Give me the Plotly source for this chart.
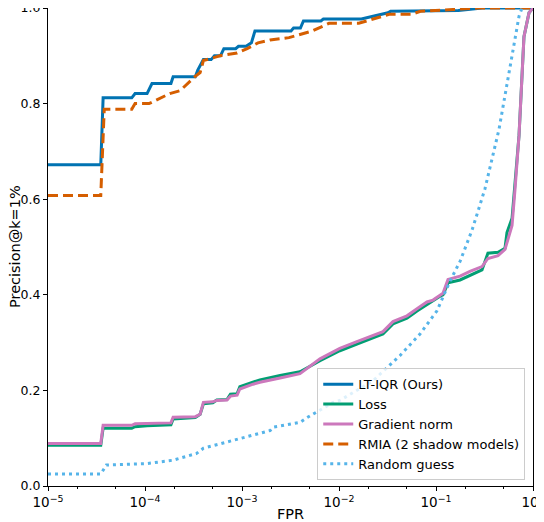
import plotly.graph_objects as go

# FPR / precision pairs
fpr_ltiqr = [1e-5, 3.5e-5, 3.7e-5, 7.3e-5, 7.9e-5, 1.05e-4, 1.18e-4, 1.85e-4, 1.95e-4, 3.3e-4, 3.5e-4,
             4.0e-4, 4.8e-4, 5.2e-4, 6.0e-4, 6.5e-4, 8.6e-4, 9.2e-4, 1.1e-3, 1.25e-3, 1.36e-3, 3.2e-3,
             3.4e-3, 4.0e-3, 4.3e-3, 6.5e-3, 6.9e-3, 0.017, 0.032, 0.034, 0.17, 0.3, 1.0]
prec_ltiqr = [0.672, 0.672, 0.812, 0.812, 0.821, 0.821, 0.842, 0.842, 0.856, 0.856, 0.87,
              0.892, 0.892, 0.9, 0.9, 0.915, 0.915, 0.92, 0.92, 0.927, 0.952, 0.952,
              0.958, 0.958, 0.973, 0.973, 0.977, 0.977, 0.99, 0.993, 0.995, 1.0, 1.0]

fpr_loss = [1e-5, 3.5e-5, 3.7e-5, 7.3e-5, 7.9e-5, 1.05e-4, 1.85e-4, 1.95e-4, 3.3e-4, 3.7e-4, 4.0e-4,
            5.0e-4, 5.5e-4, 7.0e-4, 7.6e-4, 8.9e-4, 9.5e-4, 1.3e-3, 1.53e-3, 2.47e-3, 3.96e-3, 6.37e-3,
            8.07e-3, 0.0102, 0.0153, 0.0224, 0.0284, 0.036, 0.0502, 0.0637, 0.0807, 0.11, 0.118, 0.133,
            0.177, 0.224, 0.298, 0.343, 0.436, 0.514, 0.539, 0.608, 0.652, 0.718, 0.807, 0.91, 1.0]
prec_loss = [0.085, 0.085, 0.121, 0.121, 0.124, 0.126, 0.128, 0.14, 0.143, 0.15, 0.172,
             0.174, 0.18, 0.181, 0.192, 0.193, 0.208, 0.217, 0.222, 0.231, 0.239, 0.262,
             0.272, 0.283, 0.297, 0.31, 0.318, 0.339, 0.351, 0.366, 0.38, 0.397, 0.40, 0.425,
             0.431, 0.441, 0.452, 0.487, 0.489, 0.497, 0.53, 0.56, 0.63, 0.734, 0.94, 0.99, 1.0]

fpr_grad = [1e-5, 3.5e-5, 3.7e-5, 7.3e-5, 7.9e-5, 1.05e-4, 1.85e-4, 1.95e-4, 3.3e-4, 3.7e-4, 4.0e-4,
            5.0e-4, 5.5e-4, 7.0e-4, 7.6e-4, 8.9e-4, 9.5e-4, 1.3e-3, 1.53e-3, 2.47e-3, 3.96e-3, 6.37e-3,
            8.07e-3, 0.0102, 0.0153, 0.0224, 0.0284, 0.036, 0.0502, 0.0637, 0.0807, 0.0931, 0.118,
            0.133, 0.177, 0.224, 0.298, 0.343, 0.436, 0.514, 0.608, 0.652, 0.718, 0.807, 0.91, 1.0]
prec_grad = [0.089, 0.089, 0.127, 0.127, 0.13, 0.131, 0.132, 0.144, 0.145, 0.15, 0.175,
             0.176, 0.179, 0.18, 0.188, 0.19, 0.203, 0.213, 0.217, 0.226, 0.235, 0.266,
             0.277, 0.288, 0.302, 0.315, 0.323, 0.344, 0.356, 0.371, 0.385, 0.389, 0.403,
             0.432, 0.439, 0.449, 0.459, 0.476, 0.482, 0.495, 0.545, 0.62, 0.734, 0.94, 0.99, 1.0]

fpr_rmia = [1e-5, 3.5e-5, 3.8e-5, 7.3e-5, 7.9e-5, 1.1e-4, 1.8e-4, 2.3e-4, 3.3e-4, 3.7e-4, 4.0e-4,
            5.9e-4, 8.9e-4, 1.13e-3, 1.46e-3, 1.95e-3, 3.05e-3, 5.3e-3, 7.9e-3, 0.016, 0.033, 0.056,
            0.069, 0.135, 0.28, 1.0]
prec_rmia = [0.608, 0.608, 0.788, 0.788, 0.8, 0.8, 0.821, 0.827, 0.857, 0.865, 0.89,
             0.9, 0.906, 0.915, 0.927, 0.933, 0.938, 0.952, 0.968, 0.968, 0.987, 0.987,
             0.993, 0.997, 1.0, 1.0]

fpr_random = [1e-5, 3.5e-5, 4.0e-5, 1.05e-4, 1.95e-4, 3.4e-4, 4.0e-4, 9.5e-4, 1.95e-3, 2.09e-3,
              3.96e-3, 4.68e-3, 8.7e-3, 0.0102, 0.0195, 0.0224, 0.0426, 0.0684, 0.102, 0.139,
              0.177, 0.235, 0.284, 0.32, 0.446, 0.57, 0.718, 0.77]
prec_random = [0.025, 0.025, 0.044, 0.047, 0.054, 0.068, 0.079, 0.1, 0.116, 0.123,
               0.133, 0.143, 0.175, 0.179, 0.214, 0.22, 0.273, 0.318, 0.366, 0.428,
               0.47, 0.535, 0.588, 0.622, 0.746, 0.871, 0.983, 1.0]

x_tickvals = [1e-5, 1e-4, 1e-3, 1e-2, 1e-1, 1.0]
x_ticktext = ["10<sup>−5</sup>", "10<sup>−4</sup>", "10<sup>−3</sup>",
              "10<sup>−2</sup>", "10<sup>−1</sup>", "10<sup>0</sup>"]

series = [
    ("LT-IQR (Ours)", fpr_ltiqr, prec_ltiqr, "#0173b2", "solid"),
    ("Loss", fpr_loss, prec_loss, "#029e73", "solid"),
    ("Gradient norm", fpr_grad, prec_grad, "#cc78bc", "solid"),
    ("RMIA (2 shadow models)", fpr_rmia, prec_rmia, "#d55e00", "10px,5px"),
    ("Random guess", fpr_random, prec_random, "#56b4e9", "3px,4px"),
]

fig = go.Figure()
for name, x, y, color, dash in series:
    fig.add_trace(go.Scatter(x=x, y=y, mode="lines", name=name,
                             line=dict(color=color, width=3, dash=dash)))

axis_style = dict(showline=True, linecolor="black", linewidth=1, mirror=True,
                  ticks="outside", ticklen=4, tickcolor="black", showgrid=False,
                  zeroline=False, automargin=False, ticklabeloverflow="allow")

# page body adds an 8px offset, so the figure is 8px smaller on each side
fig.update_layout(
    template="none",
    width=536, height=514, autosize=False,
    margin=dict(l=40, r=11, t=0, b=36, pad=0),
    paper_bgcolor="white", plot_bgcolor="white",
    font=dict(family="DejaVu Sans", size=12.5, color="black"),
    legend=dict(x=0.984, y=0.012, xanchor="right", yanchor="bottom",
                bgcolor="rgba(255,255,255,0.8)", bordercolor="#cccccc", borderwidth=1,
                font=dict(size=13), itemwidth=30, tracegroupgap=0),
    annotations=[
        dict(text="FPR", xref="paper", yref="paper", x=0.5, y=0, xanchor="center",
             yanchor="middle", yshift=-28, showarrow=False, font=dict(size=14.5)),
        dict(text="Precision@k=1%", xref="paper", yref="paper", x=0, y=0.5, xanchor="center",
             yanchor="middle", xshift=-33, textangle=-90, showarrow=False, font=dict(size=14.5)),
    ],
)
fig.update_xaxes(type="log", range=[-5, 0], tickvals=x_tickvals, ticktext=x_ticktext,
                 tickfont=dict(size=13.5, color="black"),
                 minor=dict(ticks="outside", ticklen=2, tickcolor="black"), **axis_style)
fig.update_yaxes(range=[0, 1], dtick=0.2, tickformat=".1f",
                 tickfont=dict(size=12.5, color="black"), **axis_style)

fig.write_html("out.html")
